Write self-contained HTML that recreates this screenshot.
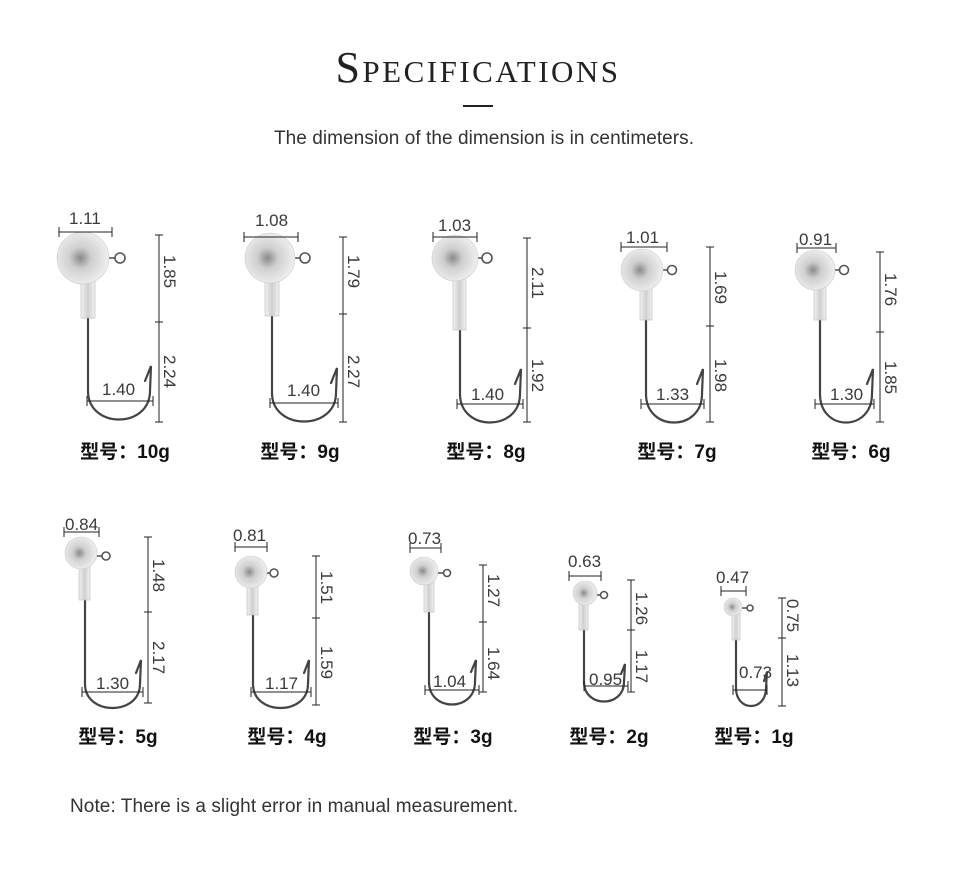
<!DOCTYPE html>
<html><head><meta charset="utf-8"><style>
body{margin:0;background:#fff;}
svg{display:block}
text{font-family:"Liberation Sans","Noto Sans CJK SC",sans-serif;fill:#333}
.d{font-size:17px;fill:#3a3a3a}
.c{font-size:19px;fill:#111;text-anchor:middle;font-weight:bold}
.l{stroke:#222;stroke-width:1;fill:none}
.h{stroke:#444;stroke-width:2.2;fill:none;stroke-linecap:round}
.n{fill:url(#sil);stroke:#bbb;stroke-width:.6}
.e{fill:none;stroke:#555;stroke-width:1.6}
</style></head><body>
<svg width="960" height="884" viewBox="0 0 960 884" xmlns="http://www.w3.org/2000/svg">
<defs>
<radialGradient id="g" cx="0.45" cy="0.5" r="0.6"><stop offset="0" stop-color="#8a8a8a"/><stop offset="0.35" stop-color="#cfcfcf"/><stop offset="1" stop-color="#f4f4f4"/></radialGradient>
<linearGradient id="sil" x1="0" x2="1"><stop offset="0" stop-color="#f2f2f2"/><stop offset="0.5" stop-color="#cfcfcf"/><stop offset="1" stop-color="#f2f2f2"/></linearGradient>
</defs>
<text x="478" y="82" text-anchor="middle" style="font-family:'Liberation Serif',serif;font-size:44px;font-variant:small-caps;letter-spacing:2.5px;fill:#222">Specifications</text>
<line x1="463" y1="106" x2="493" y2="106" stroke="#222" stroke-width="2"/>
<text x="484" y="144" text-anchor="middle" style="font-size:19px;fill:#333" textLength="420">The dimension of the dimension is in centimeters.</text>

<!-- 10g -->
<path class="h" d="M88,318 L88,391 C88,429 150,429 150,391 L151,366 L145,381"/>
<rect class="n" x="81" y="276" width="14" height="42"/>
<circle cx="120" cy="258" r="5" class="e"/><line x1="106" y1="258" x2="115" y2="258" class="e"/>
<circle cx="83" cy="258" r="26" fill="url(#g)" stroke="#ccc" stroke-width=".6"/>
<path class="l" d="M59,232 H112 M59,227 V237 M112,227 V237"/>
<path class="l" d="M159,235 V422 M155,235 H163 M155,322 H163 M155,422 H163"/>
<path class="l" d="M87,401 H153 M87,396 V406 M153,396 V406"/>
<text class="d" x="69" y="224">1.11</text><text class="d" x="102" y="395">1.40</text>
<text class="d" transform="translate(164,255) rotate(90)">1.85</text><text class="d" transform="translate(164,355) rotate(90)">2.24</text>
<text class="c" x="125" y="458">型号：10g</text>

<!-- 9g -->
<path class="h" d="M272,316 L272,393 C272,431 336,431 336,393 L337,368 L331,383"/>
<rect class="n" x="265" y="275" width="14" height="41"/>
<circle cx="305" cy="258" r="5" class="e"/><line x1="292" y1="258" x2="300" y2="258" class="e"/>
<circle cx="270" cy="258" r="25" fill="url(#g)" stroke="#ccc" stroke-width=".6"/>
<path class="l" d="M244,237 H298 M244,232 V242 M298,232 V242"/>
<path class="l" d="M343,237 V422 M339,237 H347 M339,314 H347 M339,422 H347"/>
<path class="l" d="M270,403 H338 M270,398 V408 M338,398 V408"/>
<text class="d" x="255" y="226">1.08</text><text class="d" x="287" y="396">1.40</text>
<text class="d" transform="translate(348,255) rotate(90)">1.79</text><text class="d" transform="translate(348,355) rotate(90)">2.27</text>
<text class="c" x="300" y="458">型号：9g</text>

<!-- 8g -->
<path class="h" d="M460,330 L460,394 C460,432 520,432 520,394 L521,369 L515,384"/>
<rect class="n" x="453" y="274" width="13" height="56"/>
<circle cx="487" cy="258" r="5" class="e"/><line x1="476" y1="258" x2="482" y2="258" class="e"/>
<circle cx="455" cy="258" r="23" fill="url(#g)" stroke="#ccc" stroke-width=".6"/>
<path class="l" d="M433,237 H477 M433,232 V242 M477,232 V242"/>
<path class="l" d="M527,238 V422 M523,238 H531 M523,328 H531 M523,422 H531"/>
<path class="l" d="M457,404 H523 M457,399 V409 M523,399 V409"/>
<text class="d" x="438" y="231">1.03</text><text class="d" x="471" y="400">1.40</text>
<text class="d" transform="translate(532,267) rotate(90)">2.11</text><text class="d" transform="translate(532,359) rotate(90)">1.92</text>
<text class="c" x="486" y="458">型号：8g</text>

<!-- 7g -->
<path class="h" d="M646,320 L646,394 C646,432 702,432 702,394 L703,369 L697,384"/>
<rect class="n" x="640" y="285" width="12" height="35"/>
<circle cx="672" cy="270" r="4.5" class="e"/><line x1="662" y1="270" x2="668" y2="270" class="e"/>
<circle cx="642" cy="270" r="21" fill="url(#g)" stroke="#ccc" stroke-width=".6"/>
<path class="l" d="M621,247 H667 M621,242 V252 M667,242 V252"/>
<path class="l" d="M710,247 V422 M706,247 H714 M706,326 H714 M706,422 H714"/>
<path class="l" d="M641,404 H704 M641,399 V409 M704,399 V409"/>
<text class="d" x="626" y="243">1.01</text><text class="d" x="656" y="400">1.33</text>
<text class="d" transform="translate(715,271) rotate(90)">1.69</text><text class="d" transform="translate(715,359) rotate(90)">1.98</text>
<text class="c" x="677" y="458">型号：7g</text>

<!-- 6g -->
<path class="h" d="M820,320 L820,394 C820,432 872,432 872,394 L873,369 L867,384"/>
<rect class="n" x="814" y="284" width="12" height="36"/>
<circle cx="844" cy="270" r="4.5" class="e"/><line x1="834" y1="270" x2="840" y2="270" class="e"/>
<circle cx="815" cy="270" r="20" fill="url(#g)" stroke="#ccc" stroke-width=".6"/>
<path class="l" d="M797,248 H836 M797,243 V253 M836,243 V253"/>
<path class="l" d="M880,252 V422 M876,252 H884 M876,332 H884 M876,422 H884"/>
<path class="l" d="M815,404 H874 M815,399 V409 M874,399 V409"/>
<text class="d" x="799" y="245">0.91</text><text class="d" x="830" y="400">1.30</text>
<text class="d" transform="translate(885,273) rotate(90)">1.76</text><text class="d" transform="translate(885,361) rotate(90)">1.85</text>
<text class="c" x="851" y="458">型号：6g</text>

<!-- 5g -->
<path class="h" d="M85,600 L85,684 C85,716 140,716 140,684 L141,660 L136,673"/>
<rect class="n" x="79" y="564" width="11" height="36"/>
<circle cx="106" cy="556" r="4" class="e"/><line x1="97" y1="556" x2="102" y2="556" class="e"/>
<circle cx="81" cy="553" r="16" fill="url(#g)" stroke="#ccc" stroke-width=".6"/>
<path class="l" d="M64,532 H99 M64,527 V537 M99,527 V537"/>
<path class="l" d="M148,537 V703 M144,537 H152 M144,612 H152 M144,703 H152"/>
<path class="l" d="M82,692 H143 M82,687 V697 M143,687 V697"/>
<text class="d" x="65" y="530">0.84</text><text class="d" x="96" y="689">1.30</text>
<text class="d" transform="translate(153,559) rotate(90)">1.48</text><text class="d" transform="translate(153,641) rotate(90)">2.17</text>
<text class="c" x="118" y="743">型号：5g</text>

<!-- 4g -->
<path class="h" d="M253,615 L253,684 C253,716 308,716 308,684 L309,660 L304,673"/>
<rect class="n" x="247" y="583" width="11" height="32"/>
<circle cx="274" cy="573" r="4" class="e"/><line x1="266" y1="573" x2="270" y2="573" class="e"/>
<circle cx="251" cy="572" r="16" fill="url(#g)" stroke="#ccc" stroke-width=".6"/>
<path class="l" d="M235,547 H267 M235,542 V552 M267,542 V552"/>
<path class="l" d="M316,556 V705 M312,556 H320 M312,618 H320 M312,705 H320"/>
<path class="l" d="M251,692 H311 M251,687 V697 M311,687 V697"/>
<text class="d" x="233" y="541">0.81</text><text class="d" x="265" y="689">1.17</text>
<text class="d" transform="translate(321,571) rotate(90)">1.51</text><text class="d" transform="translate(321,646) rotate(90)">1.59</text>
<text class="c" x="287" y="743">型号：4g</text>

<!-- 3g -->
<path class="h" d="M429,612 L429,682 C429,712 475,712 475,682 L476,660 L471,672"/>
<rect class="n" x="424" y="581" width="10" height="31"/>
<circle cx="447" cy="573" r="3.5" class="e"/><line x1="438" y1="573" x2="444" y2="573" class="e"/>
<circle cx="424" cy="571" r="14" fill="url(#g)" stroke="#ccc" stroke-width=".6"/>
<path class="l" d="M410,548 H441 M410,543 V553 M441,543 V553"/>
<path class="l" d="M483,565 V692 M479,565 H487 M479,622 H487 M479,692 H487"/>
<path class="l" d="M425,690 H479 M425,685 V695 M479,685 V695"/>
<text class="d" x="408" y="544">0.73</text><text class="d" x="433" y="687">1.04</text>
<text class="d" transform="translate(488,574) rotate(90)">1.27</text><text class="d" transform="translate(488,647) rotate(90)">1.64</text>
<text class="c" x="453" y="743">型号：3g</text>

<!-- 2g -->
<path class="h" d="M584,630 L584,682 C584,708 624,708 624,682 L625,664 L621,674"/>
<rect class="n" x="579" y="601" width="9" height="29"/>
<circle cx="604" cy="595" r="3.5" class="e"/><line x1="597" y1="595" x2="601" y2="595" class="e"/>
<circle cx="585" cy="593" r="12" fill="url(#g)" stroke="#ccc" stroke-width=".6"/>
<path class="l" d="M569,576 H601 M569,571 V581 M601,571 V581"/>
<path class="l" d="M631,580 V692 M627,580 H635 M627,630 H635 M627,692 H635"/>
<path class="l" d="M584,686 H628 M584,681 V691 M628,681 V691"/>
<text class="d" x="568" y="567">0.63</text><text class="d" x="589" y="685">0.95</text>
<text class="d" transform="translate(636,592) rotate(90)">1.26</text><text class="d" transform="translate(636,650) rotate(90)">1.17</text>
<text class="c" x="609" y="743">型号：2g</text>

<!-- 1g -->
<path class="h" d="M736,640 L736,688 C736,712 766,712 766,688 L767,672 L764,681"/>
<rect class="n" x="732" y="613" width="8" height="27"/>
<circle cx="750" cy="608" r="3" class="e"/><line x1="742" y1="608" x2="747" y2="608" class="e"/>
<circle cx="733" cy="607" r="9" fill="url(#g)" stroke="#ccc" stroke-width=".6"/>
<path class="l" d="M721,591 H746 M721,586 V596 M746,586 V596"/>
<path class="l" d="M782,598 V706 M778,598 H786 M778,638 H786 M778,706 H786"/>
<path class="l" d="M733,690 H767 M733,685 V695 M767,685 V695"/>
<text class="d" x="716" y="583">0.47</text><text class="d" x="739" y="678">0.73</text>
<text class="d" transform="translate(787,599) rotate(90)">0.75</text><text class="d" transform="translate(787,654) rotate(90)">1.13</text>
<text class="c" x="754" y="743">型号：1g</text>

<text x="70" y="812" style="font-size:19px;fill:#333" textLength="448">Note: There is a slight error in manual measurement.</text>
</svg>
</body></html>
